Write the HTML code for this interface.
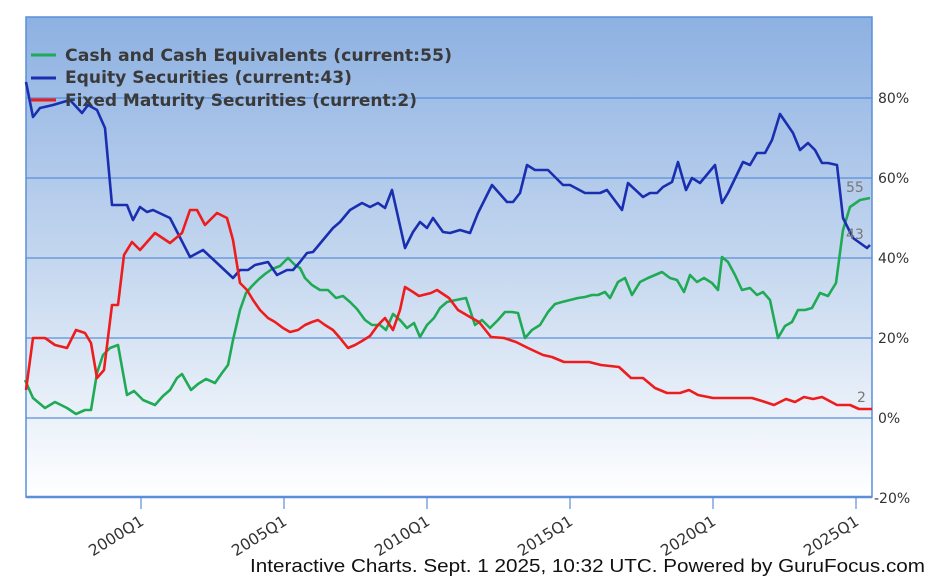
<!DOCTYPE html>
<html><head><meta charset="utf-8"><style>
html,body{margin:0;padding:0;background:#fff;}
svg{display:block;font-family:"DejaVu Sans","Liberation Sans",sans-serif;}
</style></head><body>
<svg width="950" height="579" viewBox="0 0 950 579" xmlns="http://www.w3.org/2000/svg">
<defs>
<linearGradient id="bg" x1="0" y1="0" x2="0" y2="1">
<stop offset="0" stop-color="#8db1e2"/>
<stop offset="0.55" stop-color="#c9daf0"/>
<stop offset="1" stop-color="#ffffff"/>
</linearGradient>
</defs>
<rect x="26" y="17" width="846" height="480" fill="url(#bg)" stroke="#5a8fd8" stroke-width="1.5"/>
<g stroke="#5b8fd9" stroke-width="1.2">
<line x1="26" y1="98" x2="872" y2="98"/>
<line x1="26" y1="178" x2="872" y2="178"/>
<line x1="26" y1="258" x2="872" y2="258"/>
<line x1="26" y1="338" x2="872" y2="338"/>
<line x1="26" y1="418" x2="872" y2="418"/>
<line x1="26" y1="497" x2="872" y2="497" stroke-width="2.5"/>
<line x1="141" y1="497" x2="141" y2="509"/>
<line x1="284" y1="497" x2="284" y2="509"/>
<line x1="427" y1="497" x2="427" y2="509"/>
<line x1="570" y1="497" x2="570" y2="509"/>
<line x1="713" y1="497" x2="713" y2="509"/>
<line x1="856" y1="497" x2="856" y2="509"/>
</g>
<g font-size="14" fill="#333">
<text x="878" y="103">80%</text>
<text x="878" y="183">60%</text>
<text x="878" y="263">40%</text>
<text x="878" y="343">20%</text>
<text x="878" y="423">0%</text>
<text x="874" y="503">-20%</text>
</g>
<g font-size="15.5" fill="#333" text-anchor="end">
<text transform="translate(145,524) rotate(-32)">2000Q1</text>
<text transform="translate(288,524) rotate(-32)">2005Q1</text>
<text transform="translate(431,524) rotate(-32)">2010Q1</text>
<text transform="translate(574,524) rotate(-32)">2015Q1</text>
<text transform="translate(717,524) rotate(-32)">2020Q1</text>
<text transform="translate(860,524) rotate(-32)">2025Q1</text>
</g>
<g fill="none" stroke-width="2.6" stroke-linejoin="round">
<polyline stroke="#1faa55" points="25,380 33,398 45,408 55,402 67,408 76,414 85,410 91,410 97,373 103,355 110,348 118,345 127,395 134,391 143,400 155,405 163,396 170,390 177,378 182,374 191,390 198,384 206,379 215,383 222,373 228,365 233,340 240,310 246,293 252,286 259,279 265,274 272,269 280,266 288,258 295,265 300,268 305,278 312,285 320,290 328,290 336,298 343,296 350,302 357,309 365,320 372,325 380,325 386,330 393,314 400,320 407,328 414,323 420,337 427,325 434,318 440,308 447,302 456,300 466,298 475,325 482,320 490,328 498,320 505,312 512,312 518,313 525,338 532,330 540,325 548,312 555,304 562,302 570,300 578,298 585,297 592,295 598,295 605,292 610,298 618,282 625,278 632,295 640,282 648,278 655,275 662,272 670,278 677,280 684,292 690,275 697,282 704,278 712,283 718,290 722,257 728,262 735,275 742,290 750,288 757,295 763,292 770,300 778,338 785,326 792,322 798,310 805,310 812,308 820,293 828,296 836,283 843,230 850,207 860,200 870,198"/>
<polyline stroke="#1a2fb0" points="26,82 33,117 40,108 53,105 70,100 82,113 88,105 97,110 105,128 112,205 127,205 133,220 140,207 147,212 153,210 170,218 190,257 203,250 217,263 233,278 240,270 248,270 255,265 268,262 277,275 287,270 293,270 300,262 307,253 313,252 323,240 333,228 340,222 350,210 362,203 370,207 378,203 385,208 392,190 405,248 413,232 420,222 427,228 433,218 443,232 450,233 460,230 470,233 478,213 492,185 507,202 513,202 520,193 527,165 535,170 548,170 563,185 570,185 585,193 600,193 607,190 622,210 628,183 643,197 650,193 657,193 663,187 672,182 678,162 686,190 692,178 700,183 715,165 722,203 728,193 743,162 750,165 757,153 765,153 772,140 780,114 793,133 800,150 808,143 815,150 822,163 828,163 837,165 843,218 853,238 867,248 870,245"/>
<polyline stroke="#ee1c1c" points="26,390 33,338 45,338 55,345 67,348 76,330 85,333 91,343 97,378 104,370 112,305 118,305 124,255 132,242 140,250 155,233 170,243 182,233 190,210 197,210 205,225 217,213 227,218 233,240 240,283 247,290 253,300 260,310 268,318 275,322 283,328 290,332 298,330 305,325 312,322 318,320 325,325 333,330 340,338 348,348 355,345 362,341 370,336 378,325 385,318 393,330 400,310 405,287 413,292 419,296 431,293 437,290 449,298 458,310 470,317 479,322 491,337 504,338 516,342 528,348 543,355 552,357 564,362 589,362 601,365 619,367 631,378 643,378 655,388 667,393 680,393 689,390 698,395 713,398 752,398 762,401 774,405 786,399 795,402 804,397 813,399 822,397 837,405 850,405 859,409 872,409"/>
</g>
<g font-size="14" fill="#777">
<text x="846" y="192">55</text>
<text x="846" y="239">43</text>
<text x="857" y="402">2</text>
</g>
<g stroke-width="3">
<line x1="31" y1="55" x2="56" y2="55" stroke="#1faa55"/>
<line x1="31" y1="78" x2="56" y2="78" stroke="#1a2fb0"/>
<line x1="31" y1="100" x2="56" y2="100" stroke="#ee1c1c"/>
</g>
<g font-size="17" font-weight="bold" fill="#3a3a3a">
<text x="65" y="61" textLength="387" lengthAdjust="spacingAndGlyphs">Cash and Cash Equivalents (current:55)</text>
<text x="65" y="83" textLength="287" lengthAdjust="spacingAndGlyphs">Equity Securities (current:43)</text>
<text x="65" y="106" textLength="352" lengthAdjust="spacingAndGlyphs">Fixed Maturity Securities (current:2)</text>
</g>
<text x="250" y="572" font-size="18" fill="#111" font-family="Liberation Sans, sans-serif" textLength="675" lengthAdjust="spacingAndGlyphs">Interactive Charts. Sept. 1 2025, 10:32 UTC. Powered by GuruFocus.com</text>
</svg>
</body></html>
